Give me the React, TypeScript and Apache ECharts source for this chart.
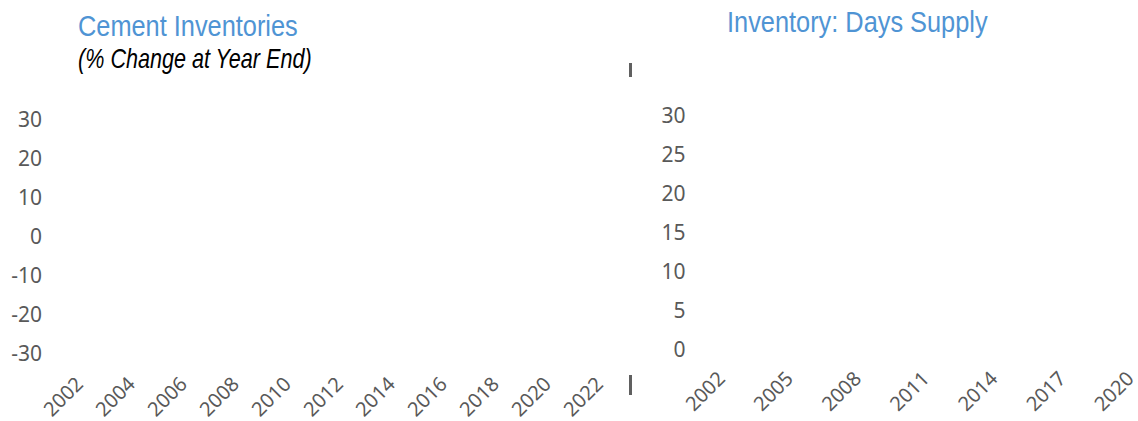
import React, { useEffect, useRef } from "react";
import * as echarts from "echarts";

// Left chart: Cement Inventories (% change at year end)
const cementYears = [
  "2002", "2003", "2004", "2005", "2006", "2007", "2008", "2009", "2010", "2011",
  "2012", "2013", "2014", "2015", "2016", "2017", "2018", "2019", "2020", "2021", "2022",
];
const cementChange: number[] = []; // no visible data in the reference
const cementTicks = { min: -30, max: 30, interval: 10 };

// Right chart: Inventory days supply
const supplyYears = [
  "2002", "2003", "2004", "2005", "2006", "2007", "2008", "2009", "2010", "2011",
  "2012", "2013", "2014", "2015", "2016", "2017", "2018", "2019", "2020", "2021", "2022",
];
const daysSupply: number[] = []; // no visible data in the reference
const supplyTicks = { min: 0, max: 30, interval: 5 };

const titleLeft = "Cement Inventories";
const subtitleLeft = "(% Change at Year End)";
const titleRight = "Inventory: Days Supply";

const BLUE = "#4f94d4";
const GREY = "#595959";
const LABEL_FONT = "'Noto Sans', 'Open Sans', sans-serif";
const TITLE_FONT = "'Liberation Sans', Arial, sans-serif";

export default function App() {
  const ref = useRef<HTMLDivElement>(null);
  useEffect(() => {
    if (!ref.current) return;
    const chart = echarts.init(ref.current, undefined, { renderer: "svg" });
    const axisLabel = { color: GREY, fontSize: 21, fontFamily: LABEL_FONT };
    const xLabel = { color: GREY, fontSize: 20, fontFamily: LABEL_FONT };
    chart.setOption({
      animation: false,
      backgroundColor: "#ffffff",
      grid: [
        { left: 66, top: 118.7, width: 546, height: 234.3, outerBoundsMode: "none", containLabel: false },
        { left: 709.6, top: 115, width: 477, height: 233.7, outerBoundsMode: "none", containLabel: false },
      ],
      xAxis: [
        {
          type: "category",
          gridIndex: 0,
          data: cementYears,
          boundaryGap: true,
          axisLine: { show: false },
          axisTick: { show: false },
          splitLine: { show: false },
          axisLabel: { ...xLabel, rotate: 45, interval: 1, margin: 27 },
        },
        {
          type: "category",
          gridIndex: 1,
          data: supplyYears,
          boundaryGap: true,
          axisLine: { show: false },
          axisTick: { show: false },
          splitLine: { show: false },
          axisLabel: { ...xLabel, rotate: 45, interval: 2, margin: 26 },
        },
      ],
      yAxis: [
        {
          type: "value",
          gridIndex: 0,
          ...cementTicks,
          axisLine: { show: false },
          axisTick: { show: false },
          splitLine: { show: false },
          axisLabel: { ...axisLabel, margin: 24 },
        },
        {
          type: "value",
          gridIndex: 1,
          ...supplyTicks,
          axisLine: { show: false },
          axisTick: { show: false },
          splitLine: { show: false },
          axisLabel: { ...axisLabel, margin: 24 },
        },
      ],
      series: [
        { type: "line", xAxisIndex: 0, yAxisIndex: 0, data: cementChange, silent: true },
        { type: "line", xAxisIndex: 1, yAxisIndex: 1, data: daysSupply, silent: true },
      ],
      graphic: [
        {
          type: "text",
          x: 78,
          y: 11,
          scaleX: 0.845,
          style: { text: titleLeft, fill: BLUE, font: `30px ${TITLE_FONT}`, verticalAlign: "top" },
        },
        {
          type: "text",
          x: 78,
          y: 45,
          scaleX: 0.8,
          style: { text: subtitleLeft, fill: "#000000", font: `italic 27px ${TITLE_FONT}`, verticalAlign: "top" },
        },
        {
          type: "text",
          x: 727,
          y: 7,
          scaleX: 0.845,
          style: { text: titleRight, fill: BLUE, font: `30px ${TITLE_FONT}`, verticalAlign: "top" },
        },
        {
          type: "line",
          shape: { x1: 630.5, y1: 63, x2: 630.5, y2: 77 },
          style: { stroke: "#606060", lineWidth: 3 },
        },
        {
          type: "line",
          shape: { x1: 630.5, y1: 375, x2: 630.5, y2: 395 },
          style: { stroke: "#606060", lineWidth: 3 },
        },
      ],
    });
    return () => chart.dispose();
  }, []);
  return (
    <div
      ref={ref}
      style={{ position: "fixed", left: 0, top: 0, width: 1138, height: 421 }}
    />
  );
}
